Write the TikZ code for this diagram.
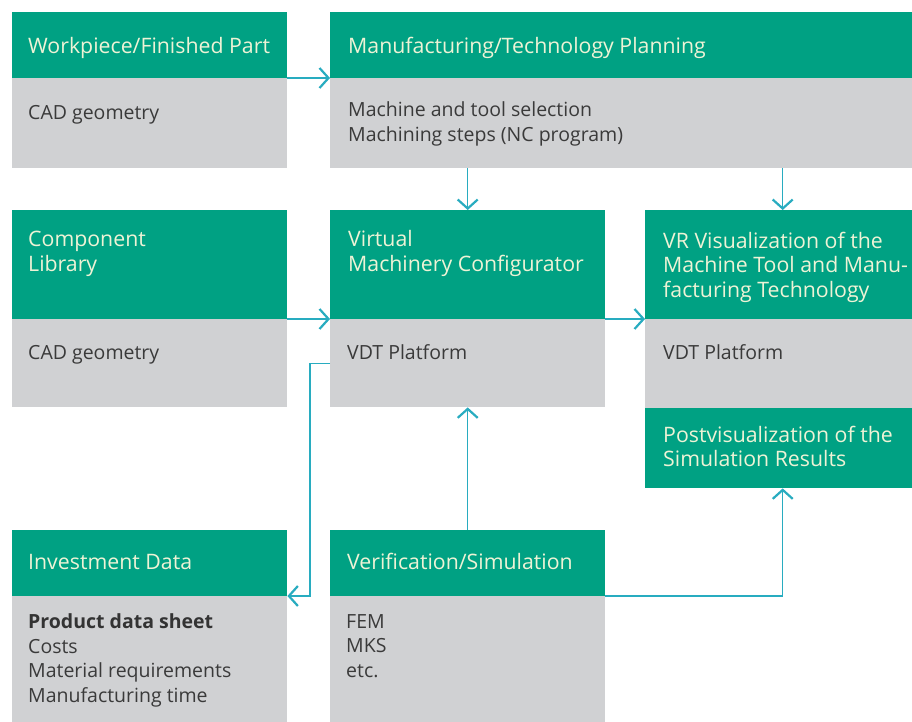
\documentclass[tikz,border=0pt]{standalone}
\usepackage{fontspec}
\setmainfont{Open Sans}
\usetikzlibrary{arrows.meta,calc}
\definecolor{hgreen}{RGB}{0,161,131}
\definecolor{bgray}{RGB}{208,209,211}
\definecolor{lcyan}{RGB}{40,172,192}
\definecolor{htxt}{RGB}{238,243,214}
\definecolor{btxt}{RGB}{58,58,58}
\begin{document}
\begin{tikzpicture}[x=1pt,y=-1pt,
  hdr/.style={fill=hgreen,draw=none,anchor=north west,inner sep=0pt,minimum width=#1},
  bdy/.style={fill=bgray,draw=none,anchor=north west,inner sep=0pt,minimum width=#1},
  ht/.style={anchor=north west,inner sep=0pt,align=left,text=htxt,
    font=\fontsize{21.3}{24.8}\selectfont,execute at begin node=\strut},
  bt/.style={anchor=north west,inner sep=0pt,align=left,text=btxt,
    font=\fontsize{19.5}{24.5}\selectfont,execute at begin node=\strut},
  arr/.style={draw=lcyan,line width=1.4pt,-{Straight Barb[length=9pt,width=20pt,line width=2.2pt]}},
  ln/.style={draw=lcyan,line width=1.4pt}]
\useasboundingbox[fill=white] (0,0) rectangle (912,722);
% Workpiece
\node[hdr=275,minimum height=66] (wpH) at (12,12) {};
\node[bdy=275,minimum height=90] (wpB) at (12,78) {};
% Manufacturing
\node[hdr=582,minimum height=66] (mfH) at (330,12) {};
\node[bdy=582,minimum height=90] (mfB) at (330,78) {};
% Component
\node[hdr=275,minimum height=109] (clH) at (12,210) {};
\node[bdy=275,minimum height=88] (clB) at (12,319) {};
% Virtual
\node[hdr=275,minimum height=109] (vmH) at (330,210) {};
\node[bdy=275,minimum height=88] (vmB) at (330,319) {};
% VR
\node[hdr=267,minimum height=109] (vrH) at (645,210) {};
\node[bdy=267,minimum height=89] (vrB) at (645,319) {};
\node[hdr=267,minimum height=80] (post) at (645,408) {};
% Investment
\node[hdr=275,minimum height=66] (invH) at (12,530) {};
\node[bdy=275,minimum height=126] (invB) at (12,596) {};
% Verification
\node[hdr=275,minimum height=66] (vsH) at (330,530) {};
\node[bdy=275,minimum height=126] (vsB) at (330,596) {};
% texts
\node[ht] (t1) at (28,35.6) {Workpiece/Finished Part};
\node[bt] (t2) at (28,101.9) {CAD geometry};
\node[ht] (t3) at (348,35.6) {Manufacturing/Technology Planning};
\node[bt] (t4) at (348,101.9) {Machine and tool selection\\Machining steps (NC program)};
\node[ht] (t5) at (28,230.6) {Component\\Library};
\node[bt] (t6) at (28,341.9) {CAD geometry};
\node[ht] (t7) at (348,230.6) {Virtual\\Machinery Configurator};
\node[bt] (t8) at (347,341.9) {VDT Platform};
\node[ht] (t9) at (663,231.6) {VR Visualization of the\\Machine Tool and Manu-\\facturing Technology};
\node[bt] (t10) at (663,341.9) {VDT Platform};
\node[ht] (t11) at (663,425.6) {Postvisualization of the\\Simulation Results};
\node[ht] (t12) at (28,551.6) {Investment Data};
\node[bt] (t13) at (28,613.9) {{\bfseries\color{black!80}Product data sheet}\\Costs\\Material requirements\\Manufacturing time};
\node[ht] (t14) at (347,551.6) {Verification/Simulation};
\node[bt] (t15) at (346,613.9) {FEM\\MKS\\etc.};
% connectors
\draw[arr] (wpB.north east) -- (mfB.north west);
\draw[arr] (vmH.north |- mfB.south) -- (vmH.north);
\draw[arr] ($(vrH.north |- mfB.south)+(4,0)$) -- ($(vrH.north)+(4,0)$);
\draw[arr] (clB.north east) -- (vmB.north west);
\draw[arr] (vmB.north east) -- (vrB.north west);
\coordinate (bend) at ($(vmB.west)+(-20,0)$);
\draw[arr] (vmB.west) -- (bend) |- (invB.north east);
\draw[arr] (vsH.north) -- (vmB.south);
\coordinate (pst) at ($(post.south)+(4,0)$);
\draw[arr] (vsB.north east) -| (pst);
\end{tikzpicture}
\end{document}
